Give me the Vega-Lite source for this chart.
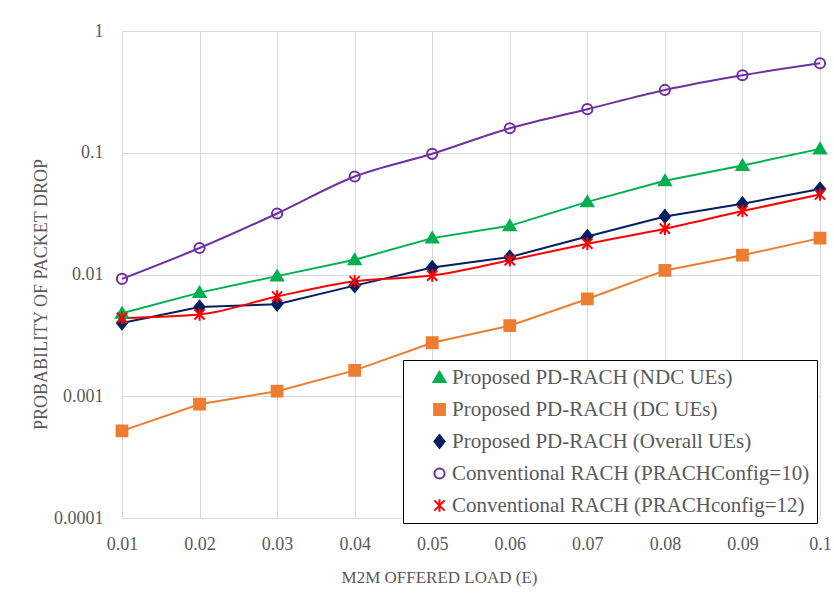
{
  "$schema": "https://vega.github.io/schema/vega-lite/v6.json",
  "width": 698,
  "height": 487,
  "autosize": {"type": "none"},
  "padding": {"left": 122, "top": 31, "right": 14, "bottom": 81},
  "background": "white",
  "config": {
    "view": {"stroke": null},
    "font": "Liberation Serif",
    "axis": {
      "labelFont": "Liberation Serif",
      "labelFontSize": 18,
      "labelColor": "#595959",
      "titleFont": "Liberation Serif",
      "titleFontSize": 17,
      "titleFontWeight": "normal",
      "titleColor": "#595959",
      "gridColor": "#D9D9D9",
      "gridWidth": 1,
      "gridOpacity": 1,
      "ticks": false,
      "domain": false,
      "labelFlush": false
    }
  },
  "data": {
    "values": [
      {"load": 0.01, "series": "Proposed PD-RACH (NDC UEs)", "p": 0.0048},
      {"load": 0.02, "series": "Proposed PD-RACH (NDC UEs)", "p": 0.0071},
      {"load": 0.03, "series": "Proposed PD-RACH (NDC UEs)", "p": 0.0097},
      {"load": 0.04, "series": "Proposed PD-RACH (NDC UEs)", "p": 0.0132},
      {"load": 0.05, "series": "Proposed PD-RACH (NDC UEs)", "p": 0.0199},
      {"load": 0.06, "series": "Proposed PD-RACH (NDC UEs)", "p": 0.0251},
      {"load": 0.07, "series": "Proposed PD-RACH (NDC UEs)", "p": 0.0395},
      {"load": 0.08, "series": "Proposed PD-RACH (NDC UEs)", "p": 0.0588},
      {"load": 0.09, "series": "Proposed PD-RACH (NDC UEs)", "p": 0.0785},
      {"load": 0.1, "series": "Proposed PD-RACH (NDC UEs)", "p": 0.1076},
      {"load": 0.01, "series": "Proposed PD-RACH (DC UEs)", "p": 0.00052},
      {"load": 0.02, "series": "Proposed PD-RACH (DC UEs)", "p": 0.00086},
      {"load": 0.03, "series": "Proposed PD-RACH (DC UEs)", "p": 0.0011},
      {"load": 0.04, "series": "Proposed PD-RACH (DC UEs)", "p": 0.00163},
      {"load": 0.05, "series": "Proposed PD-RACH (DC UEs)", "p": 0.00275},
      {"load": 0.06, "series": "Proposed PD-RACH (DC UEs)", "p": 0.0038},
      {"load": 0.07, "series": "Proposed PD-RACH (DC UEs)", "p": 0.0063},
      {"load": 0.08, "series": "Proposed PD-RACH (DC UEs)", "p": 0.0108},
      {"load": 0.09, "series": "Proposed PD-RACH (DC UEs)", "p": 0.0144},
      {"load": 0.1, "series": "Proposed PD-RACH (DC UEs)", "p": 0.0199},
      {"load": 0.01, "series": "Proposed PD-RACH (Overall UEs)", "p": 0.0040},
      {"load": 0.02, "series": "Proposed PD-RACH (Overall UEs)", "p": 0.0054},
      {"load": 0.03, "series": "Proposed PD-RACH (Overall UEs)", "p": 0.0057},
      {"load": 0.04, "series": "Proposed PD-RACH (Overall UEs)", "p": 0.0081},
      {"load": 0.05, "series": "Proposed PD-RACH (Overall UEs)", "p": 0.0114},
      {"load": 0.06, "series": "Proposed PD-RACH (Overall UEs)", "p": 0.0139},
      {"load": 0.07, "series": "Proposed PD-RACH (Overall UEs)", "p": 0.0205},
      {"load": 0.08, "series": "Proposed PD-RACH (Overall UEs)", "p": 0.0300},
      {"load": 0.09, "series": "Proposed PD-RACH (Overall UEs)", "p": 0.0381},
      {"load": 0.1, "series": "Proposed PD-RACH (Overall UEs)", "p": 0.0503},
      {"load": 0.01, "series": "Conventional RACH (PRACHConfig=10)", "p": 0.0092},
      {"load": 0.02, "series": "Conventional RACH (PRACHConfig=10)", "p": 0.0165},
      {"load": 0.03, "series": "Conventional RACH (PRACHConfig=10)", "p": 0.0317},
      {"load": 0.04, "series": "Conventional RACH (PRACHConfig=10)", "p": 0.0638},
      {"load": 0.05, "series": "Conventional RACH (PRACHConfig=10)", "p": 0.098},
      {"load": 0.06, "series": "Conventional RACH (PRACHConfig=10)", "p": 0.159},
      {"load": 0.07, "series": "Conventional RACH (PRACHConfig=10)", "p": 0.228},
      {"load": 0.08, "series": "Conventional RACH (PRACHConfig=10)", "p": 0.328},
      {"load": 0.09, "series": "Conventional RACH (PRACHConfig=10)", "p": 0.433},
      {"load": 0.1, "series": "Conventional RACH (PRACHConfig=10)", "p": 0.543},
      {"load": 0.01, "series": "Conventional RACH (PRACHconfig=12)", "p": 0.0044},
      {"load": 0.02, "series": "Conventional RACH (PRACHconfig=12)", "p": 0.0047},
      {"load": 0.03, "series": "Conventional RACH (PRACHconfig=12)", "p": 0.0066},
      {"load": 0.04, "series": "Conventional RACH (PRACHconfig=12)", "p": 0.0088},
      {"load": 0.05, "series": "Conventional RACH (PRACHconfig=12)", "p": 0.0098},
      {"load": 0.06, "series": "Conventional RACH (PRACHconfig=12)", "p": 0.0131},
      {"load": 0.07, "series": "Conventional RACH (PRACHconfig=12)", "p": 0.0179},
      {"load": 0.08, "series": "Conventional RACH (PRACHconfig=12)", "p": 0.0238},
      {"load": 0.09, "series": "Conventional RACH (PRACHconfig=12)", "p": 0.0332},
      {"load": 0.1, "series": "Conventional RACH (PRACHconfig=12)", "p": 0.0454}
    ]
  },
  "encoding": {
    "x": {
      "field": "load",
      "type": "quantitative",
      "scale": {"domain": [0.01, 0.1], "nice": false, "zero": false},
      "axis": {
        "values": [0.01, 0.02, 0.03, 0.04, 0.05, 0.06, 0.07, 0.08, 0.09, 0.1],
        "format": "~g",
        "title": "M2M OFFERED LOAD (E)",
        "labelPadding": 17,
        "titlePadding": 16,
        "titleX": 317
      }
    },
    "y": {
      "field": "p",
      "type": "quantitative",
      "scale": {"type": "log", "domain": [0.0001, 1], "nice": false},
      "axis": {
        "values": [1, 0.1, 0.01, 0.001, 0.0001],
        "format": "~g",
        "title": "PROBABILITY OF PACKET DROP",
        "titleFontSize": 18,
        "titleY": 263,
        "labelPadding": 19,
        "titlePadding": 3
      }
    },
    "stroke": {
      "field": "series",
      "type": "nominal",
      "scale": {
        "domain": ["Proposed PD-RACH (NDC UEs)", "Proposed PD-RACH (DC UEs)", "Proposed PD-RACH (Overall UEs)", "Conventional RACH (PRACHConfig=10)", "Conventional RACH (PRACHconfig=12)"],
        "range": ["#00B050", "#ED7D31", "#002060", "#7030A0", "#FF0000"]
      }
    }
  },
  "layer": [
    {
      "transform": [{"filter": "indexof(datum.series, 'Proposed') === 0"}],
      "mark": {"type": "line", "strokeWidth": 2}
    },
    {
      "transform": [{"filter": "indexof(datum.series, 'Conventional') === 0"}],
      "mark": {"type": "line", "strokeWidth": 2, "interpolate": "monotone"}
    },
    {
      "mark": {"type": "point", "size": 144, "strokeWidth": 2, "opacity": 1},
      "encoding": {
        "shape": {
          "field": "series",
          "type": "nominal",
          "scale": {
            "domain": ["Proposed PD-RACH (NDC UEs)", "Proposed PD-RACH (DC UEs)", "Proposed PD-RACH (Overall UEs)", "Conventional RACH (PRACHConfig=10)", "Conventional RACH (PRACHconfig=12)"],
            "range": [
              "M0,-0.95L1,0.75H-1Z",
              "M-0.9,-0.9H0.9V0.9H-0.9Z",
              "M0,-1.05L0.85,0L0,1.05L-0.85,0Z",
              "M-0.85,0A0.85,0.85,0,1,1,0.85,0A0.85,0.85,0,1,1,-0.85,0Z",
              "M-0.85,-0.85L0.85,0.85M-0.85,0.85L0.85,-0.85M0,-1.05V1.05"
            ]
          },
          "legend": {
            "title": null,
            "orient": "none",
            "legendX": 281,
            "legendY": 329,
            "labelFont": "Liberation Serif",
            "labelFontSize": 21,
            "labelColor": "#595959",
            "labelLimit": 500,
            "symbolSize": 144,
            "symbolStrokeWidth": 2,
            "symbolOffset": 19,
            "labelOffset": 2,
            "rowPadding": 10,
            "padding": 7,
            "strokeColor": "black",
            "fillColor": "white"
          }
        },
        "fill": {
          "field": "series",
          "type": "nominal",
          "scale": {
            "domain": ["Proposed PD-RACH (NDC UEs)", "Proposed PD-RACH (DC UEs)", "Proposed PD-RACH (Overall UEs)", "Conventional RACH (PRACHConfig=10)", "Conventional RACH (PRACHconfig=12)"],
            "range": ["#00B050", "#ED7D31", "#002060", "transparent", "transparent"]
          },
          "legend": {
            "encode": {
              "symbols": {
                "shape": {"value": {"expr": "datum.value === 'Proposed PD-RACH (NDC UEs)' ? 'M-2.4,0H2.4M0,-0.95L1,0.75H-1Z' : datum.value === 'Proposed PD-RACH (DC UEs)' ? 'M-2.4,0H2.4M-0.9,-0.9H0.9V0.9H-0.9Z' : datum.value === 'Proposed PD-RACH (Overall UEs)' ? 'M-2.4,0H2.4M0,-1.05L0.85,0L0,1.05L-0.85,0Z' : datum.value === 'Conventional RACH (PRACHConfig=10)' ? 'M-2.4,0H2.4M-0.85,0A0.85,0.85,0,1,1,0.85,0A0.85,0.85,0,1,1,-0.85,0Z' : 'M-2.4,0H2.4M-0.85,-0.85L0.85,0.85M-0.85,0.85L0.85,-0.85M0,-1.05V1.05'"}}
              }
            }
          }
        }
      }
    }
  ]
}
